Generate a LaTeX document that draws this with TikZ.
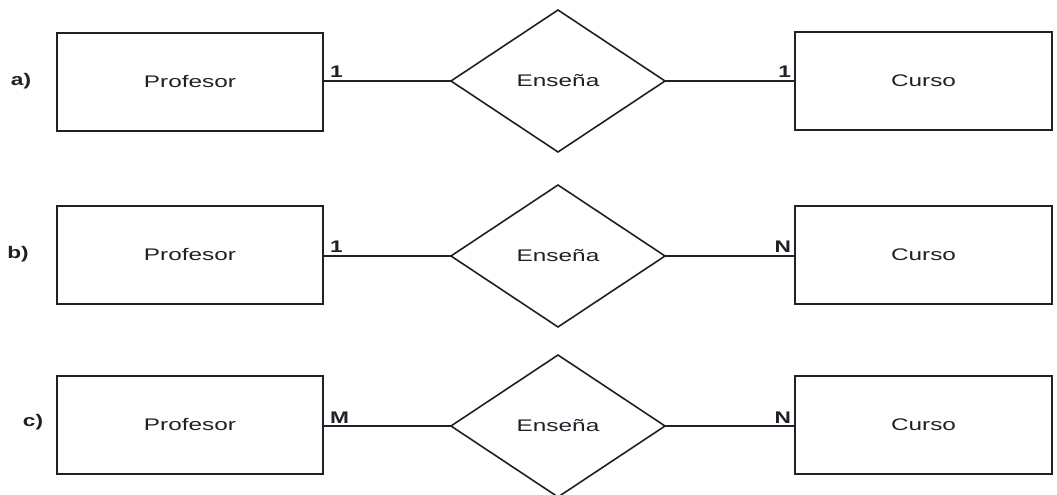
\documentclass[tikz,border=0pt]{standalone}
\usepackage{fontspec}
\setmainfont{Liberation Sans}
\usetikzlibrary{shapes.geometric,calc}
\definecolor{ink}{HTML}{202028}
\newcommand{\myxs}[1]{\scalebox{1.45}[1]{#1}}
\newcommand{\myxb}[1]{\scalebox{1.35}[1]{\bfseries #1}}
\tikzset{
  ent/.style={draw=ink, line width=1.2pt, rectangle, inner sep=0pt, outer sep=0pt,
    minimum height=73.5pt, text=ink, font=\fontsize{12.6pt}{14pt}\selectfont},
  prof/.style={ent, minimum width=199.5pt},
  curs/.style={ent, minimum width=192.75pt},
  rel/.style={draw=ink, line width=1.2pt, diamond, inner sep=0pt, outer sep=0pt,
    minimum width=160.5pt, minimum height=106.5pt, text=ink,
    font=\fontsize{12.6pt}{14pt}\selectfont},
  conn/.style={draw=ink, line width=1.2pt},
  card/.style={inner sep=0pt, outer sep=0pt, text=ink, font=\fontsize{12.6pt}{14pt}\selectfont},
  rowlbl/.style={inner sep=0pt, outer sep=0pt, text=ink, font=\fontsize{12.6pt}{14pt}\selectfont}
}
\begin{document}
\begin{tikzpicture}[x=0.75pt,y=-0.75pt]
\useasboundingbox[fill=white] (0,0) rectangle (1057,495);
% row a
\node[rowlbl] (la) at (21,81) {\myxb{a)}};
\node[prof] (pa) at (190,82) {\myxs{Profesor}};
\node[rel] (ea) at (558,81) {\myxs{Enseña}};
\node[curs] (ca) at (923.5,81) {\myxs{Curso}};
\draw[conn] (pa.east |- ea.west) -- (ea.west);
\draw[conn] (ea.east) -- (ca.west |- ea.east);
\node[card, anchor=base west] (a1) at ($(pa.east |- ea.west)+(7,-3)$) {\myxb{1}};
\node[card, anchor=base east] (a2) at ($(ca.west |- ea.east)+(-4,-3)$) {\myxb{1}};
% row b
\node[rowlbl] (lb) at (18,254) {\myxb{b)}};
\node[prof] (pb) at (190,255) {\myxs{Profesor}};
\node[rel] (eb) at (558,256) {\myxs{Enseña}};
\node[curs] (cb) at (923.5,255) {\myxs{Curso}};
\draw[conn] (pb.east |- eb.west) -- (eb.west);
\draw[conn] (eb.east) -- (cb.west |- eb.east);
\node[card, anchor=base west] (b1) at ($(pb.east |- eb.west)+(7,-3)$) {\myxb{1}};
\node[card, anchor=base east] (b2) at ($(cb.west |- eb.east)+(-4,-3)$) {\myxb{N}};
% row c
\node[rowlbl] (lc) at (33,422) {\myxb{c)}};
\node[prof] (pc) at (190,425) {\myxs{Profesor}};
\node[rel] (ec) at (558,426) {\myxs{Enseña}};
\node[curs] (cc) at (923.5,425) {\myxs{Curso}};
\draw[conn] (pc.east |- ec.west) -- (ec.west);
\draw[conn] (ec.east) -- (cc.west |- ec.east);
\node[card, anchor=base west] (c1) at ($(pc.east |- ec.west)+(7,-3)$) {\myxb{M}};
\node[card, anchor=base east] (c2) at ($(cc.west |- ec.east)+(-4,-3)$) {\myxb{N}};
\end{tikzpicture}
\end{document}
